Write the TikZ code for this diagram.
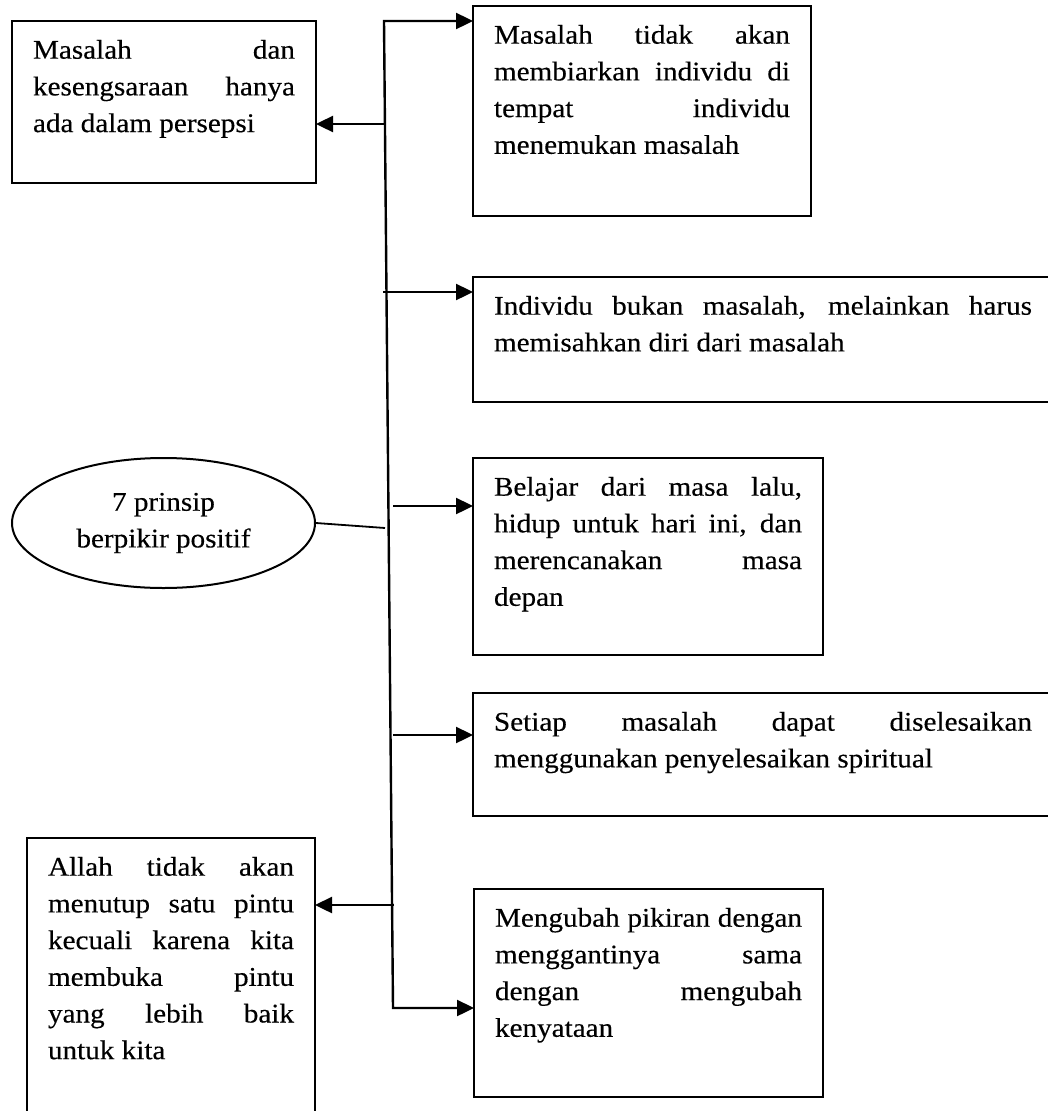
\documentclass[tikz,border=0pt]{standalone}
\usepackage{fontspec}
\setmainfont{Liberation Serif}[FakeStretch=1.08,FakeBold=0.35]
\usetikzlibrary{arrows.meta,shapes.geometric}

% justified text without hyphenation; wide word gaps are accepted
\tolerance=10000
\hbadness=10000
\hyphenpenalty=10000
\exhyphenpenalty=10000

% text block of a box: height, width, text
\newcommand\boxpar[3]{\parbox[t][#1pt][t]{#2pt}{\strut #3}}

\begin{document}
\begin{tikzpicture}[x=1pt,y=-1pt,
  txtbox/.style={draw, line width=2pt, anchor=north west, outer sep=0pt,
    inner xsep=21pt, inner ysep=12pt,
    font=\fontsize{27}{36.7}\selectfont},
  oval/.style={draw, ellipse, line width=2pt, inner sep=0pt,
    minimum width=303pt, minimum height=130pt, align=center,
    font=\fontsize{27}{36.7}\selectfont},
  link/.style={line width=2.4pt},
  tip/.tip={Triangle[length=17pt,width=16pt]}]

\useasboundingbox (0,0) rectangle (1048,1111);
\clip (0,0) rectangle (1048,1111);

% central idea
\node[oval] (el) at (163.5,523) {7 prinsip\\berpikir positif};

% the seven principles
\node[txtbox] (b1) at (12,21) {\boxpar{138}{262}{Masalah dan\linebreak
  kesengsaraan hanya\linebreak ada dalam persepsi}};
\node[txtbox] (b2) at (473,6) {\boxpar{186}{296}{Masalah tidak akan\linebreak
  membiarkan individu di\linebreak tempat individu\linebreak menemukan masalah}};
\node[txtbox] (b3) at (473,277) {\boxpar{101}{538}{Individu bukan masalah, melainkan harus\linebreak
  memisahkan diri dari masalah}};
\node[txtbox] (b4) at (473,458) {\boxpar{173}{308}{Belajar dari masa lalu,\linebreak
  hidup untuk hari ini, dan\linebreak merencanakan masa\linebreak depan}};
\node[txtbox] (b5) at (473,693) {\boxpar{99}{538}{Setiap masalah dapat diselesaikan\linebreak
  menggunakan penyelesaikan spiritual}};
\node[txtbox] (b6) at (27,838) {\boxpar{266}{246}{Allah tidak akan\linebreak
  menutup satu pintu\linebreak kecuali karena kita\linebreak membuka pintu\linebreak
  yang lebih baik\linebreak untuk kita}};
\node[txtbox] (b7) at (474,889) {\boxpar{184}{307}{Mengubah pikiran dengan\linebreak
  menggantinya sama\linebreak dengan mengubah\linebreak kenyataan}};

% trunk and branch points
\coordinate (top) at (384,21);
\coordinate (bot) at (393,1008);
\coordinate (j1) at (385,124);
\coordinate (j2) at (383,292);
\coordinate (j3) at (393,506);
\coordinate (je) at (385,528);
\coordinate (j4) at (393,735);
\coordinate (j5) at (394,905);

\draw[link,tip-tip] (top -| b2.west) -- (top) -- (bot) -- (bot -| b7.west);
\draw[link,-tip] (j1) -- (j1 -| b1.east);
\draw[link,-tip] (j2) -- (j2 -| b3.west);
\draw[link,-tip] (j3) -- (j3 -| b4.west);
\draw[link,-tip] (j4) -- (j4 -| b5.west);
\draw[link,-tip] (j5) -- (j5 -| b6.east);
\draw[line width=1.8pt] (el.east) -- (je);

\end{tikzpicture}
\end{document}
